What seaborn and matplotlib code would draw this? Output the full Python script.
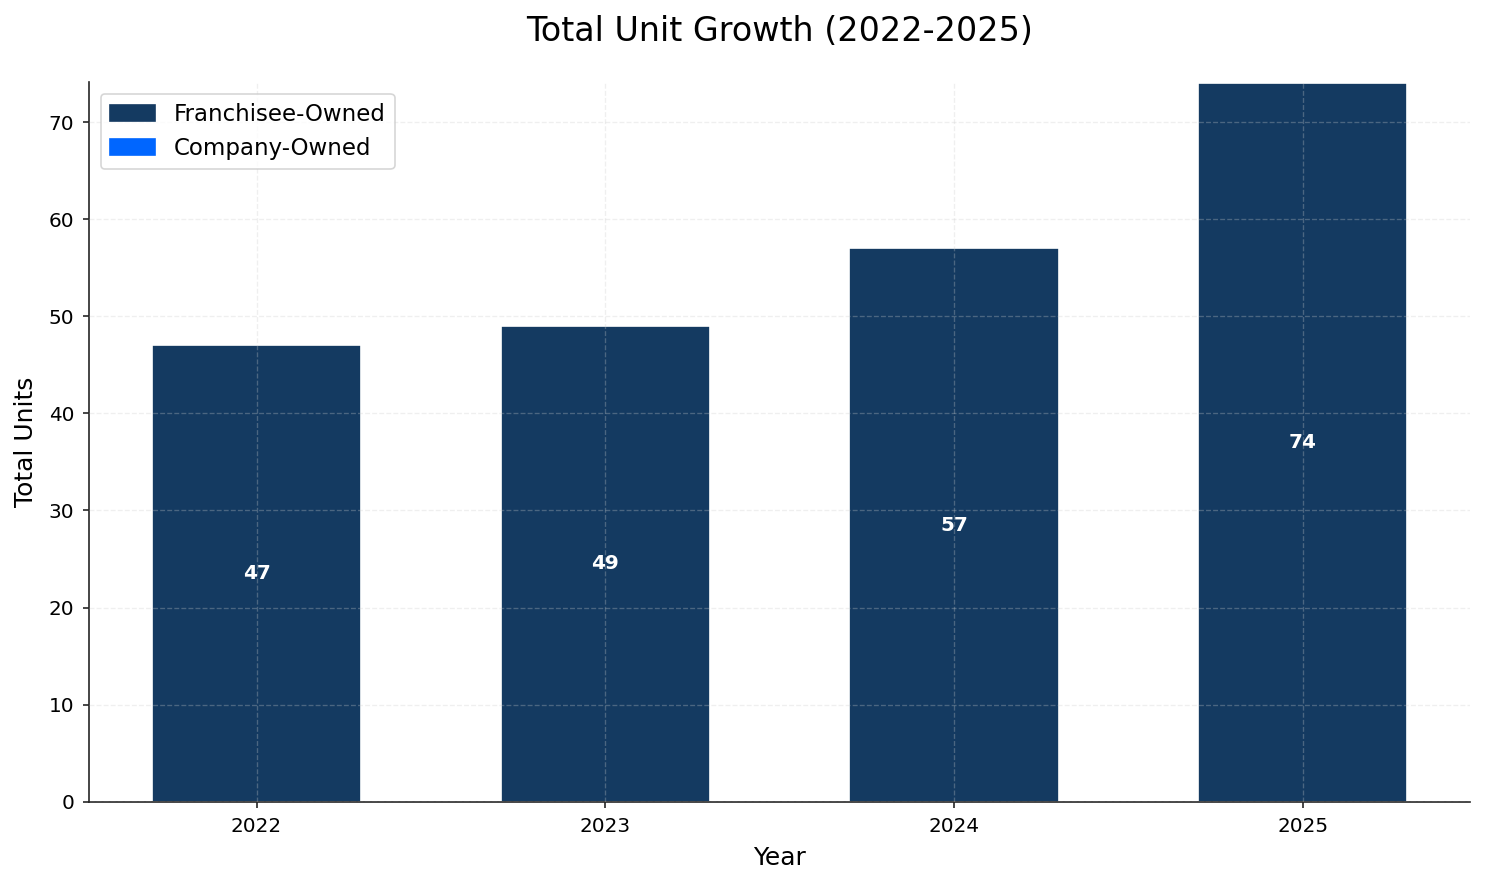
import matplotlib
matplotlib.use("Agg")
import matplotlib.pyplot as plt
import seaborn as sns
import pandas as pd
from matplotlib.patches import Patch

years = ["2022", "2023", "2024", "2025"]
franchisee = [47, 49, 57, 74]
company = [0, 0, 0, 0]

sns.set_style("white")
plt.rcParams['font.family'] = ['DejaVu Sans']
plt.rcParams['text.color'] = 'black'
plt.rcParams['axes.labelcolor'] = 'black'

df = pd.DataFrame({"Year": years, "Franchisee": franchisee, "Company": company})
df["Total"] = df["Franchisee"] + df["Company"]

DPI = 120
fig, ax = plt.subplots(figsize=(1485 / DPI, 884 / DPI), dpi=DPI)
navy = "#143A61"
blue = "#0066FF"

sns.barplot(data=df, x="Year", y="Total", color=blue, width=0.6, ax=ax, saturation=1)
sns.barplot(data=df, x="Year", y="Franchisee", color=navy, width=0.6, ax=ax, saturation=1)

for i, v in enumerate(franchisee):
    ax.text(i, v / 2, f"{v}", ha="center", va="center", color="white",
            fontsize=12, fontweight="bold")

ax.set_xlim(-0.48, len(years) - 1 + 0.48)
ax.set_ylim(0, 74.1)
ax.set_axisbelow(False)
ax.grid(True, linestyle="--", alpha=0.3, linewidth=0.8)
sns.despine(ax=ax)
for s in ["left", "bottom"]:
    ax.spines[s].set_color("#262626")
    ax.spines[s].set_linewidth(1.0)
ax.tick_params(axis="both", labelsize=12, length=3.5, width=1.0, pad=5.5,
               left=True, bottom=True, color="#262626", labelcolor="black")

ax.set_title("Total Unit Growth (2022-2025)", fontsize=20, pad=25, color="black")
ax.set_xlabel("Year", fontsize=15, labelpad=6)
ax.set_ylabel("Total Units", fontsize=15, labelpad=6)

handles = [Patch(color=navy, label="Franchisee-Owned"), Patch(color=blue, label="Company-Owned")]
ax.legend(handles=handles, loc="upper left", fontsize=13.7, frameon=True)

plt.subplots_adjust(left=0.06, right=0.99, top=0.907, bottom=0.093)
fig.savefig("out.png", dpi=DPI)
